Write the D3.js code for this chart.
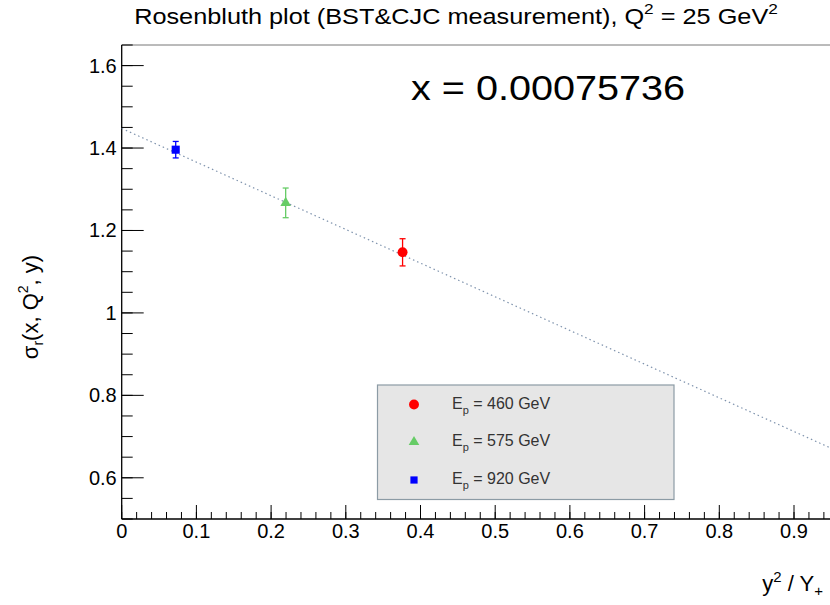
<!DOCTYPE html>
<html>
<head>
<meta charset="utf-8">
<script src="https://cdn.jsdelivr.net/npm/d3@7"></script>
<style>
  body { margin: 0; background: #fff; }
  text { font-family: "Liberation Sans", Arial, Helvetica, sans-serif; }
</style>
</head>
<body>
<div id="chart"></div>
<script>
// Rosenbluth plot data
const beamEnergies = ['460', '575', '920'];
const xValues = [0.376, 0.2195, 0.0723];      // y^2 / Y+
const sigmaValues = [1.147, 1.267, 1.396];    // sigma_r
const sigmaErrors = [0.033, 0.036, 0.020];
const markerShapes = ['circle', 'triangle', 'square'];
const markerColors = ['#ff0000', '#66cc66', '#0000ff'];

// linear fit: sigma = intercept + slope * x
const fitIntercept = 1.4476;
const fitSlope = -0.817;

const xTicks = [0, 0.1, 0.2, 0.3, 0.4, 0.5, 0.6, 0.7, 0.8, 0.9];
const yTicks = [0.6, 0.8, 1, 1.2, 1.4, 1.6];

const width = 830, height = 605;
const margin = { top: 45, right: -9, bottom: 86, left: 121.7 };

const svg = d3.select('#chart').append('svg')
  .attr('width', width)
  .attr('height', height);

const x = d3.scaleLinear()
  .domain([0, 0.96])
  .range([margin.left, margin.left + 0.96 * 747]);
const y = d3.scaleLinear()
  .domain([0.5, 1.65])
  .range([height - margin.bottom, margin.top]);

const x0 = x.range()[0], x1 = x.range()[1];
const yB = y.range()[0], yT = y.range()[1];

// frame top
svg.append('line')
  .attr('x1', x0).attr('x2', x1)
  .attr('y1', yT).attr('y2', yT)
  .attr('stroke', '#777').attr('stroke-width', 1);

// x axis
const xMinor = d3.range(0, 0.961, 0.02);
svg.append('g').selectAll('line')
  .data(xMinor)
  .join('line')
  .attr('x1', d => x(d)).attr('x2', d => x(d))
  .attr('y1', yB).attr('y2', yB - 7)
  .attr('stroke', '#000');
svg.append('g').selectAll('line')
  .data(xTicks)
  .join('line')
  .attr('x1', d => x(d)).attr('x2', d => x(d))
  .attr('y1', yB).attr('y2', yB - 14)
  .attr('stroke', '#000');
svg.append('g').selectAll('text')
  .data(xTicks)
  .join('text')
  .attr('x', d => x(d))
  .attr('y', yB + 19)
  .attr('text-anchor', 'middle')
  .attr('font-size', 20)
  .text(d3.format('~g'));
svg.append('line')
  .attr('x1', x0).attr('x2', x1)
  .attr('y1', yB).attr('y2', yB)
  .attr('stroke', '#000').attr('stroke-width', 1.3);

// y axis
const yMinor = d3.range(0.5, 1.651, 0.05);
svg.append('g').selectAll('line')
  .data(yMinor)
  .join('line')
  .attr('x1', x0).attr('x2', x0 + 11)
  .attr('y1', d => y(d)).attr('y2', d => y(d))
  .attr('stroke', '#000');
svg.append('g').selectAll('line')
  .data(yTicks)
  .join('line')
  .attr('x1', x0).attr('x2', x0 + 22)
  .attr('y1', d => y(d)).attr('y2', d => y(d))
  .attr('stroke', '#000');
svg.append('g').selectAll('text')
  .data(yTicks)
  .join('text')
  .attr('x', x0 - 5)
  .attr('y', d => y(d) + 7)
  .attr('text-anchor', 'end')
  .attr('font-size', 20)
  .text(d3.format('~g'));
svg.append('line')
  .attr('x1', x0).attr('x2', x0)
  .attr('y1', yB).attr('y2', yT)
  .attr('stroke', '#000').attr('stroke-width', 1.3);

// fit line (dotted)
const fitX = [0, 0.96];
svg.append('path')
  .datum(fitX)
  .attr('d', d3.line().x(d => x(d)).y(d => y(fitIntercept + fitSlope * d)))
  .attr('fill', 'none')
  .attr('stroke', '#7f93ad')
  .attr('stroke-width', 1.2)
  .attr('stroke-dasharray', '1.5,3');

// markers
function marker(sel, shape, color, size) {
  if (shape === 'circle') {
    sel.append('circle').attr('r', size * 0.55).attr('fill', color);
  } else if (shape === 'triangle') {
    sel.append('path')
      .attr('d', d3.symbol(d3.symbolTriangle, size * size * 0.6)())
      .attr('fill', color);
  } else {
    sel.append('rect')
      .attr('x', -size * 0.45).attr('y', -size * 0.45)
      .attr('width', size * 0.9).attr('height', size * 0.9)
      .attr('fill', color);
  }
}

const pts = xValues.map((v, i) => ({
  x: v, s: sigmaValues[i], e: sigmaErrors[i],
  shape: markerShapes[i], color: markerColors[i]
}));

const pg = svg.append('g').selectAll('g')
  .data(pts)
  .join('g');
pg.append('line')
  .attr('x1', d => x(d.x)).attr('x2', d => x(d.x))
  .attr('y1', d => y(d.s - d.e)).attr('y2', d => y(d.s + d.e))
  .attr('stroke', d => d.color).attr('stroke-width', 1.3);
pg.append('line')
  .attr('x1', d => x(d.x) - 3).attr('x2', d => x(d.x) + 3)
  .attr('y1', d => y(d.s - d.e)).attr('y2', d => y(d.s - d.e))
  .attr('stroke', d => d.color).attr('stroke-width', 1.3);
pg.append('line')
  .attr('x1', d => x(d.x) - 3).attr('x2', d => x(d.x) + 3)
  .attr('y1', d => y(d.s + d.e)).attr('y2', d => y(d.s + d.e))
  .attr('stroke', d => d.color).attr('stroke-width', 1.3);
pg.each(function(d) {
  const g = d3.select(this).append('g')
    .attr('transform', `translate(${x(d.x)},${y(d.s)})`);
  marker(g, d.shape, d.color, 9);
});

// legend
const legend = svg.append('g');
legend.append('rect')
  .attr('x', 377.5).attr('y', 385)
  .attr('width', 296.5).attr('height', 114.5)
  .attr('fill', '#e6e6e6')
  .attr('stroke', '#8c9ba5').attr('stroke-width', 1.2);
const rowY = [404.5, 442, 480];
beamEnergies.forEach((en, i) => {
  const g = legend.append('g').attr('transform', `translate(414,${rowY[i]})`);
  marker(g, markerShapes[i], markerColors[i], i === 2 ? 8 : 9);
  const t = legend.append('text')
    .attr('x', 452).attr('y', rowY[i] + 4)
    .attr('font-size', 16)
    .attr('fill', '#333');
  t.append('tspan').text('E');
  t.append('tspan').attr('font-size', 11).attr('dy', 5).text('p');
  t.append('tspan').attr('dy', -5).text(` = ${en} GeV`);
});

// title
const title = svg.append('text')
  .attr('transform', 'translate(456,24) scale(1.15,1)')
  .attr('text-anchor', 'middle')
  .attr('font-size', 22);
title.append('tspan').text('Rosenbluth plot (BST&CJC measurement), Q');
title.append('tspan').attr('font-size', 15).attr('dy', -10).text('2');
title.append('tspan').attr('dy', 10).text(' = 25 GeV');
title.append('tspan').attr('font-size', 15).attr('dy', -10).text('2');

// big x label
svg.append('text')
  .attr('transform', 'translate(411,100) scale(1.1,1)')
  .attr('font-size', 36)
  .text('x = 0.00075736');

// y axis title
const yt = svg.append('text')
  .attr('transform', 'translate(38,307) rotate(-90)')
  .attr('text-anchor', 'middle')
  .attr('font-size', 22);
yt.append('tspan').text('σ');
yt.append('tspan').attr('font-size', 14).attr('dy', 5).text('r');
yt.append('tspan').attr('dy', -5).text('(x, Q');
yt.append('tspan').attr('font-size', 14).attr('dy', -10).text('2');
yt.append('tspan').attr('dy', 10).text(', y)');

// x axis title
const xt = svg.append('text')
  .attr('x', 823).attr('y', 591)
  .attr('text-anchor', 'end')
  .attr('font-size', 22);
xt.append('tspan').text('y');
xt.append('tspan').attr('font-size', 15).attr('dy', -9).text('2');
xt.append('tspan').attr('dy', 9).text(' / Y');
xt.append('tspan').attr('font-size', 15).attr('dy', 5).text('+');
</script>
</body>
</html>
